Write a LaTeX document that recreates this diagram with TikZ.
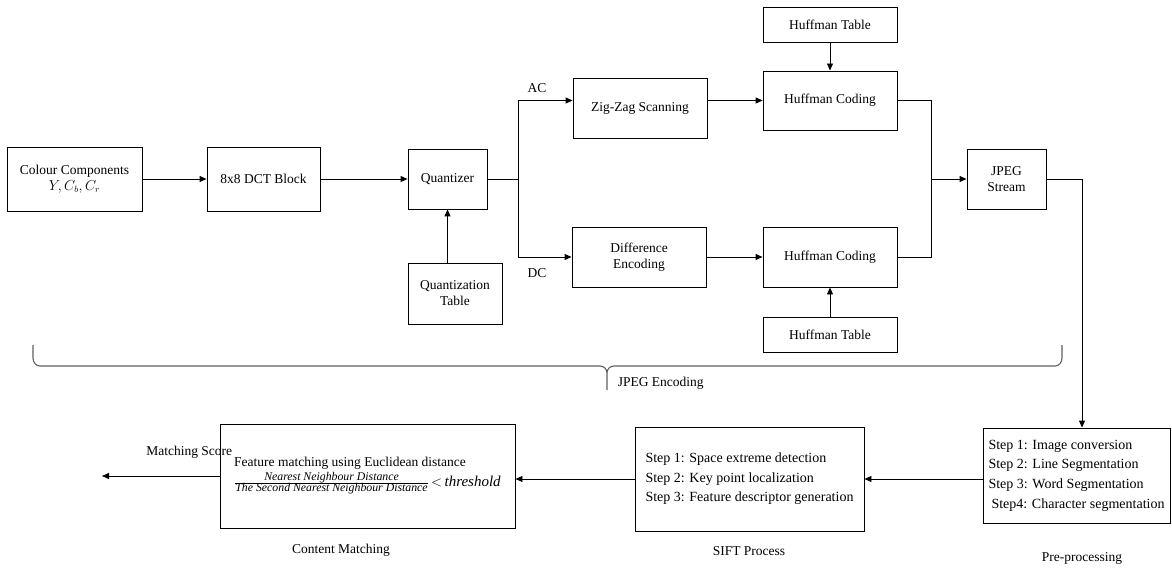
\documentclass[tikz,border=0pt]{standalone}
\usepackage{fontspec}
\setmainfont{Liberation Serif}
\usetikzlibrary{arrows.meta}
\begin{document}
\begin{tikzpicture}[x=1pt,y=-1pt,line width=0.9pt,
    every node/.style={font=\fontsize{13.5}{16}\selectfont},
    box/.style={draw,line width=0.9pt,inner sep=0pt,align=center},
    steps/.style={box,align=left,font=\fontsize{14}{19.6}\selectfont},
    >={Triangle[length=7pt,width=6pt]}]
  \useasboundingbox (0,0) rectangle (1172,569);
  \draw
    (74.5,179) node[box,minimum width=135pt,minimum height=64pt] (colour){Colour Components\\ $Y, C_b, C_r$}
    (263.5,179) node[box,minimum width=113pt,minimum height=64pt] (dct){8x8 DCT Block}
    (447.5,179) node[box,minimum width=79pt,minimum height=60pt] (quant){Quantizer}
    (455,293.5) node[box,minimum width=94pt,minimum height=61pt] (qtable){Quantization\\ Table}
    (640,108) node[box,minimum width=134pt,minimum height=60pt] (zig){Zig-Zag Scanning}
    (639,257) node[box,minimum width=134pt,minimum height=60pt] (diff){Difference\\ Encoding}
    (830,24.5) node[box,minimum width=134pt,minimum height=35pt] (htab1){Huffman Table}
    (830,100.5) node[box,minimum width=134pt,minimum height=59pt] (huff1){Huffman Coding}
    (830,257) node[box,minimum width=134pt,minimum height=60pt] (huff2){Huffman Coding}
    (830,334.5) node[box,minimum width=134pt,minimum height=35pt] (htab2){Huffman Table}
    (1006.5,179) node[box,minimum width=79pt,minimum height=60pt] (jpeg){JPEG\\ Stream}
    (1076.5,475.5) node[steps,minimum width=187pt,minimum height=95pt] (pre){Step 1: Image conversion\\ Step 2: Line Segmentation\\ Step 3: Word Segmentation\\ \hspace{3pt}Step4: Character segmentation}
    (749.5,479) node[steps,minimum width=229pt,minimum height=104pt] (sift){Step 1: Space extreme detection\\ Step 2: Key point localization\\ Step 3: Feature descriptor generation}
    (367.5,476) node[box,align=left,minimum width=295pt,minimum height=104pt] (content){Feature matching using Euclidean distance\\[1pt]
      $\frac{\mbox{\fontsize{11.8}{12}\selectfont\itshape Nearest Neighbour Distance}}{\mbox{\fontsize{11.8}{12}\selectfont\itshape The Second Nearest Neighbour Distance}}$\,{\fontsize{15}{16}\selectfont$<$\,\textit{threshold}}};
  % labels
  \node (ac) at (537,88) {AC};
  \node (dc) at (537,273) {DC};
  \node[anchor=west] (enc) at (614,383) {JPEG Encoding};
  \node[anchor=east] (score) at (236,452) {Matching Score};
  \node (cm) at (341,550) {Content Matching};
  \node (sp) at (749,551) {SIFT Process};
  \node (pp) at (1082,558) {Pre-processing};
  \coordinate (split) at (518,179);
  \coordinate (merge) at (931,179);
  \coordinate (turn) at (1082,179);
  \coordinate (out) at (102,476);
  \begin{scope}[->]
    \draw (colour) to (dct);
    \draw (dct) to (quant);
    \draw (qtable.north -| quant.south) to (quant.south);
    \draw[-] (quant.east) to (split);
    \draw (split) |- (zig.west |- huff1.west);
    \draw (split) |- (diff.west);
    \draw (zig.east |- huff1.west) to (huff1.west);
    \draw (diff) to (huff2);
    \draw (htab1) to (huff1);
    \draw (htab2) to (huff2);
    \draw[-] (huff1.east) -| (merge);
    \draw[-] (huff2.east) -| (merge);
    \draw (merge) to (merge -| jpeg.west);
    \draw (jpeg.east) -- (turn) -- (turn |- pre.north);
    \draw (pre.west |- sift.east) to (sift.east);
    \draw (sift.west) to (sift.west -| content.east);
    \draw (content.west) to (out);
  \end{scope}
  % brace
  \draw[gray!75!black,line width=1.1pt]
    (33,345) -- (33,358) to[out=-90,in=180] (40,366) -- (600,366) to[out=0,in=90] (607,373) -- (607,390)
    (607,373) to[out=90,in=180] (614,366) -- (1055,366) to[out=0,in=-90] (1062,358) -- (1062,345);
\end{tikzpicture}
\end{document}
